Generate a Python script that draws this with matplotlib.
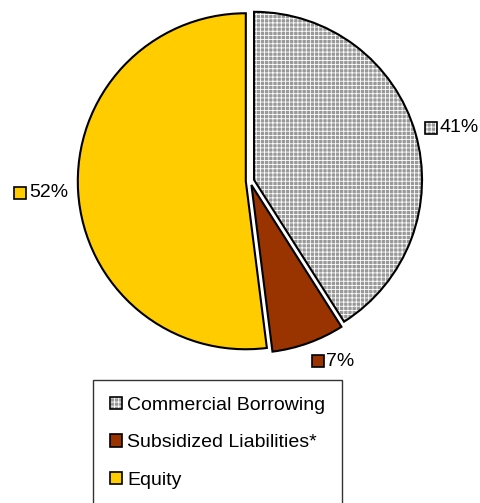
import numpy as np
import matplotlib.pyplot as plt
from matplotlib.patches import Patch, Rectangle
from matplotlib.offsetbox import AnnotationBbox, DrawingArea, HPacker, TextArea

plt.rcParams['font.family'] = ['Liberation Sans', 'DejaVu Sans']
plt.rcParams['hatch.linewidth'] = 0.6

categories = ['Commercial Borrowing', 'Subsidized Liabilities*', 'Equity']
shares = [41, 7, 52]
colors = ['#999999', '#993300', '#FFCC00']
hatch_color = 'white'

W, H = 480, 503
fig = plt.figure(figsize=(W / 100, H / 100), dpi=100)

# pie centre and radius in pixels, axes sized so radius 1 = R px
cx, cy, R = 250, 181, 168
L = 1.45
ax = fig.add_axes([(cx - L * R) / W, (H - cy - L * R) / H, 2 * L * R / W, 2 * L * R / H])
ax.axis('off')

explode = [0.025] * len(shares)

# filled wedges (hatch colour follows edge colour, so no outline here)
fills, _ = ax.pie(shares, colors=colors, explode=explode, startangle=90,
                  counterclock=False, wedgeprops=dict(linewidth=0))
fills[0].set_hatch('++++')
fills[0].set_edgecolor(hatch_color)

# black outlines on top
outlines, _ = ax.pie(shares, explode=explode, startangle=90, counterclock=False,
                     wedgeprops=dict(fill=False, edgecolor='black', linewidth=1.5))
for w in fills + outlines:
    w.set_clip_on(False)

ax.set_xlim(-L, L)
ax.set_ylim(-L, L)
ax.set_aspect('equal')


def key_square(i, size):
    da = DrawingArea(size, size, 0, 0)
    fill = Rectangle((0, 0), size, size, facecolor=colors[i], linewidth=0)
    if i == 0:
        fill.set_edgecolor(hatch_color)
        fill.set_hatch('++++')
    da.add_artist(fill)
    da.add_artist(Rectangle((0, 0), size, size, facecolor='none',
                            edgecolor='black', linewidth=1.2))
    return da


# data labels: nearest edge of the label box sits just outside the wedge
for i, (w, val, ex) in enumerate(zip(fills, shares, explode)):
    mid = np.deg2rad((w.theta1 + w.theta2) / 2)
    c, s = np.cos(mid), np.sin(mid)
    r = 1.06 + ex
    txt = TextArea(f'{val}%', textprops=dict(fontsize=14, color='black'))
    box = HPacker(children=[key_square(i, 8.5), txt], align='center', pad=0, sep=2)
    xa = 0.0 if c > 0 else 1.0
    ya = 0.5 * (1 - s / max(abs(c), abs(s)))
    ab = AnnotationBbox(box, (r * c, r * s), box_alignment=(xa, ya), frameon=False,
                        annotation_clip=False)
    ax.add_artist(ab)

# legend
handles = [
    (Patch(facecolor=colors[0], edgecolor=hatch_color, hatch='++++', linewidth=0),
     Patch(facecolor='none', edgecolor='black', linewidth=1.2)),
    Patch(facecolor=colors[1], edgecolor='black', linewidth=1.2),
    Patch(facecolor=colors[2], edgecolor='black', linewidth=1.2),
]
leg = fig.legend(handles, categories, loc='upper left',
                 bbox_to_anchor=(93 / W, 1 - 380 / H), borderaxespad=0,
                 fontsize=14, frameon=True, fancybox=False, edgecolor='black',
                 handlelength=0.62, handleheight=0.62, handletextpad=0.28,
                 labelspacing=1.05, borderpad=0.85)
leg.get_frame().set_linewidth(1.0)

fig.savefig('out.png', dpi=100)
